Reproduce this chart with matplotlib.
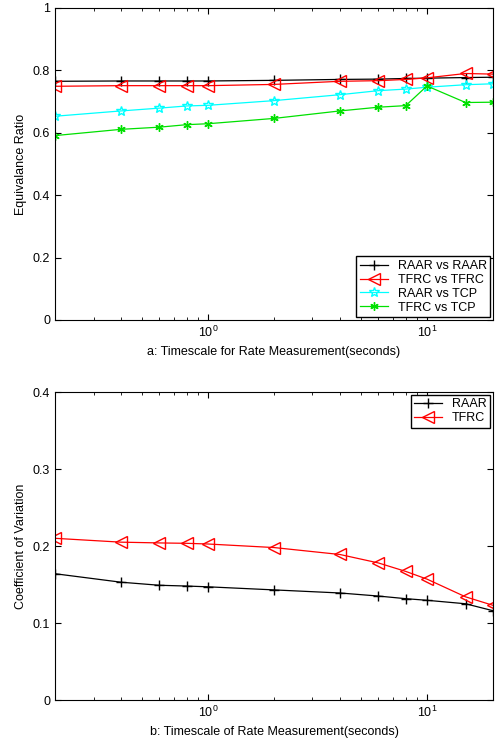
import matplotlib
matplotlib.use("Agg")
import matplotlib.pyplot as plt

plt.rcParams['font.family'] = ['Liberation Sans', 'DejaVu Sans']
plt.rcParams['font.size'] = 9
plt.rcParams['mathtext.fontset'] = 'custom'
plt.rcParams['mathtext.rm'] = 'Liberation Sans'

timescale = [0.2, 0.4, 0.6, 0.8, 1, 2, 4, 6, 8, 10, 15, 20]

# panel a: equivalence ratio
raar_vs_raar = [0.765, 0.766, 0.766, 0.766, 0.766, 0.768, 0.771, 0.772, 0.774, 0.775, 0.777, 0.778]
tfrc_vs_tfrc = [0.749, 0.751, 0.751, 0.751, 0.751, 0.755, 0.765, 0.767, 0.771, 0.776, 0.790, 0.788]
raar_vs_tcp = [0.653, 0.670, 0.679, 0.686, 0.688, 0.703, 0.722, 0.735, 0.740, 0.746, 0.754, 0.757]
tfrc_vs_tcp = [0.591, 0.611, 0.618, 0.626, 0.629, 0.646, 0.670, 0.682, 0.687, 0.750, 0.697, 0.698]

# panel b: coefficient of variation
cov_raar = [0.164, 0.153, 0.149, 0.148, 0.147, 0.143, 0.139, 0.135, 0.1316, 0.1295, 0.125, 0.116]
cov_tfrc = [0.210, 0.205, 0.204, 0.2035, 0.2026, 0.198, 0.189, 0.178, 0.167, 0.157, 0.134, 0.123]

fig = plt.figure(figsize=(5.01, 7.45), dpi=100)
ax1 = fig.add_axes([0.1098, 0.5705, 0.874, 0.4188])
ax2 = fig.add_axes([0.1098, 0.0604, 0.874, 0.4134])

ax1.plot(timescale, raar_vs_raar, color='black', marker='+', ms=7, lw=0.9, label='RAAR vs RAAR')
ax1.plot(timescale, tfrc_vs_tfrc, color='red', marker='<', ms=8, mfc='none', lw=0.9, label='TFRC vs TFRC')
ax1.plot(timescale, raar_vs_tcp, color='cyan', marker='*', ms=7, mfc='none', lw=0.9, label='RAAR vs TCP')
ax1.plot(timescale, tfrc_vs_tcp, color='#00e000', marker=(6, 2, 0), ms=6, lw=0.9, label='TFRC vs TCP')
ax1.set_ylim(0, 1)
ax1.set_yticks([0, 0.2, 0.4, 0.6, 0.8, 1])
ax1.set_yticklabels(['0', '0.2', '0.4', '0.6', '0.8', '1'])
ax1.set_ylabel('Equivalance Ratio')
ax1.set_xlabel('a: Timescale for Rate Measurement(seconds)')
ax1.legend(loc='lower right', fancybox=False, edgecolor='black', framealpha=1,
           borderpad=0.3, labelspacing=0.15, handlelength=2.2, borderaxespad=0.2)

ax2.plot(timescale, cov_raar, color='black', marker='+', ms=7, lw=0.9, label='RAAR')
ax2.plot(timescale, cov_tfrc, color='red', marker='<', ms=8, mfc='none', lw=0.9, label='TFRC')
ax2.set_ylim(0, 0.4)
ax2.set_yticks([0, 0.1, 0.2, 0.3, 0.4])
ax2.set_yticklabels(['0', '0.1', '0.2', '0.3', '0.4'])
ax2.set_ylabel('Coefficient of Variation')
ax2.set_xlabel('b: Timescale of Rate Measurement(seconds)')
ax2.legend(loc='upper right', fancybox=False, edgecolor='black', framealpha=1,
           borderpad=0.3, labelspacing=0.15, handlelength=2.2, borderaxespad=0.2)

for ax in (ax1, ax2):
    ax.set_xscale('log')
    ax.set_xlim(0.2, 20)
    ax.tick_params(which='both', direction='in', top=True, right=True)
    ax.tick_params(which='major', length=4)
    ax.tick_params(which='minor', length=2)

fig.savefig('out.png', dpi=100)
